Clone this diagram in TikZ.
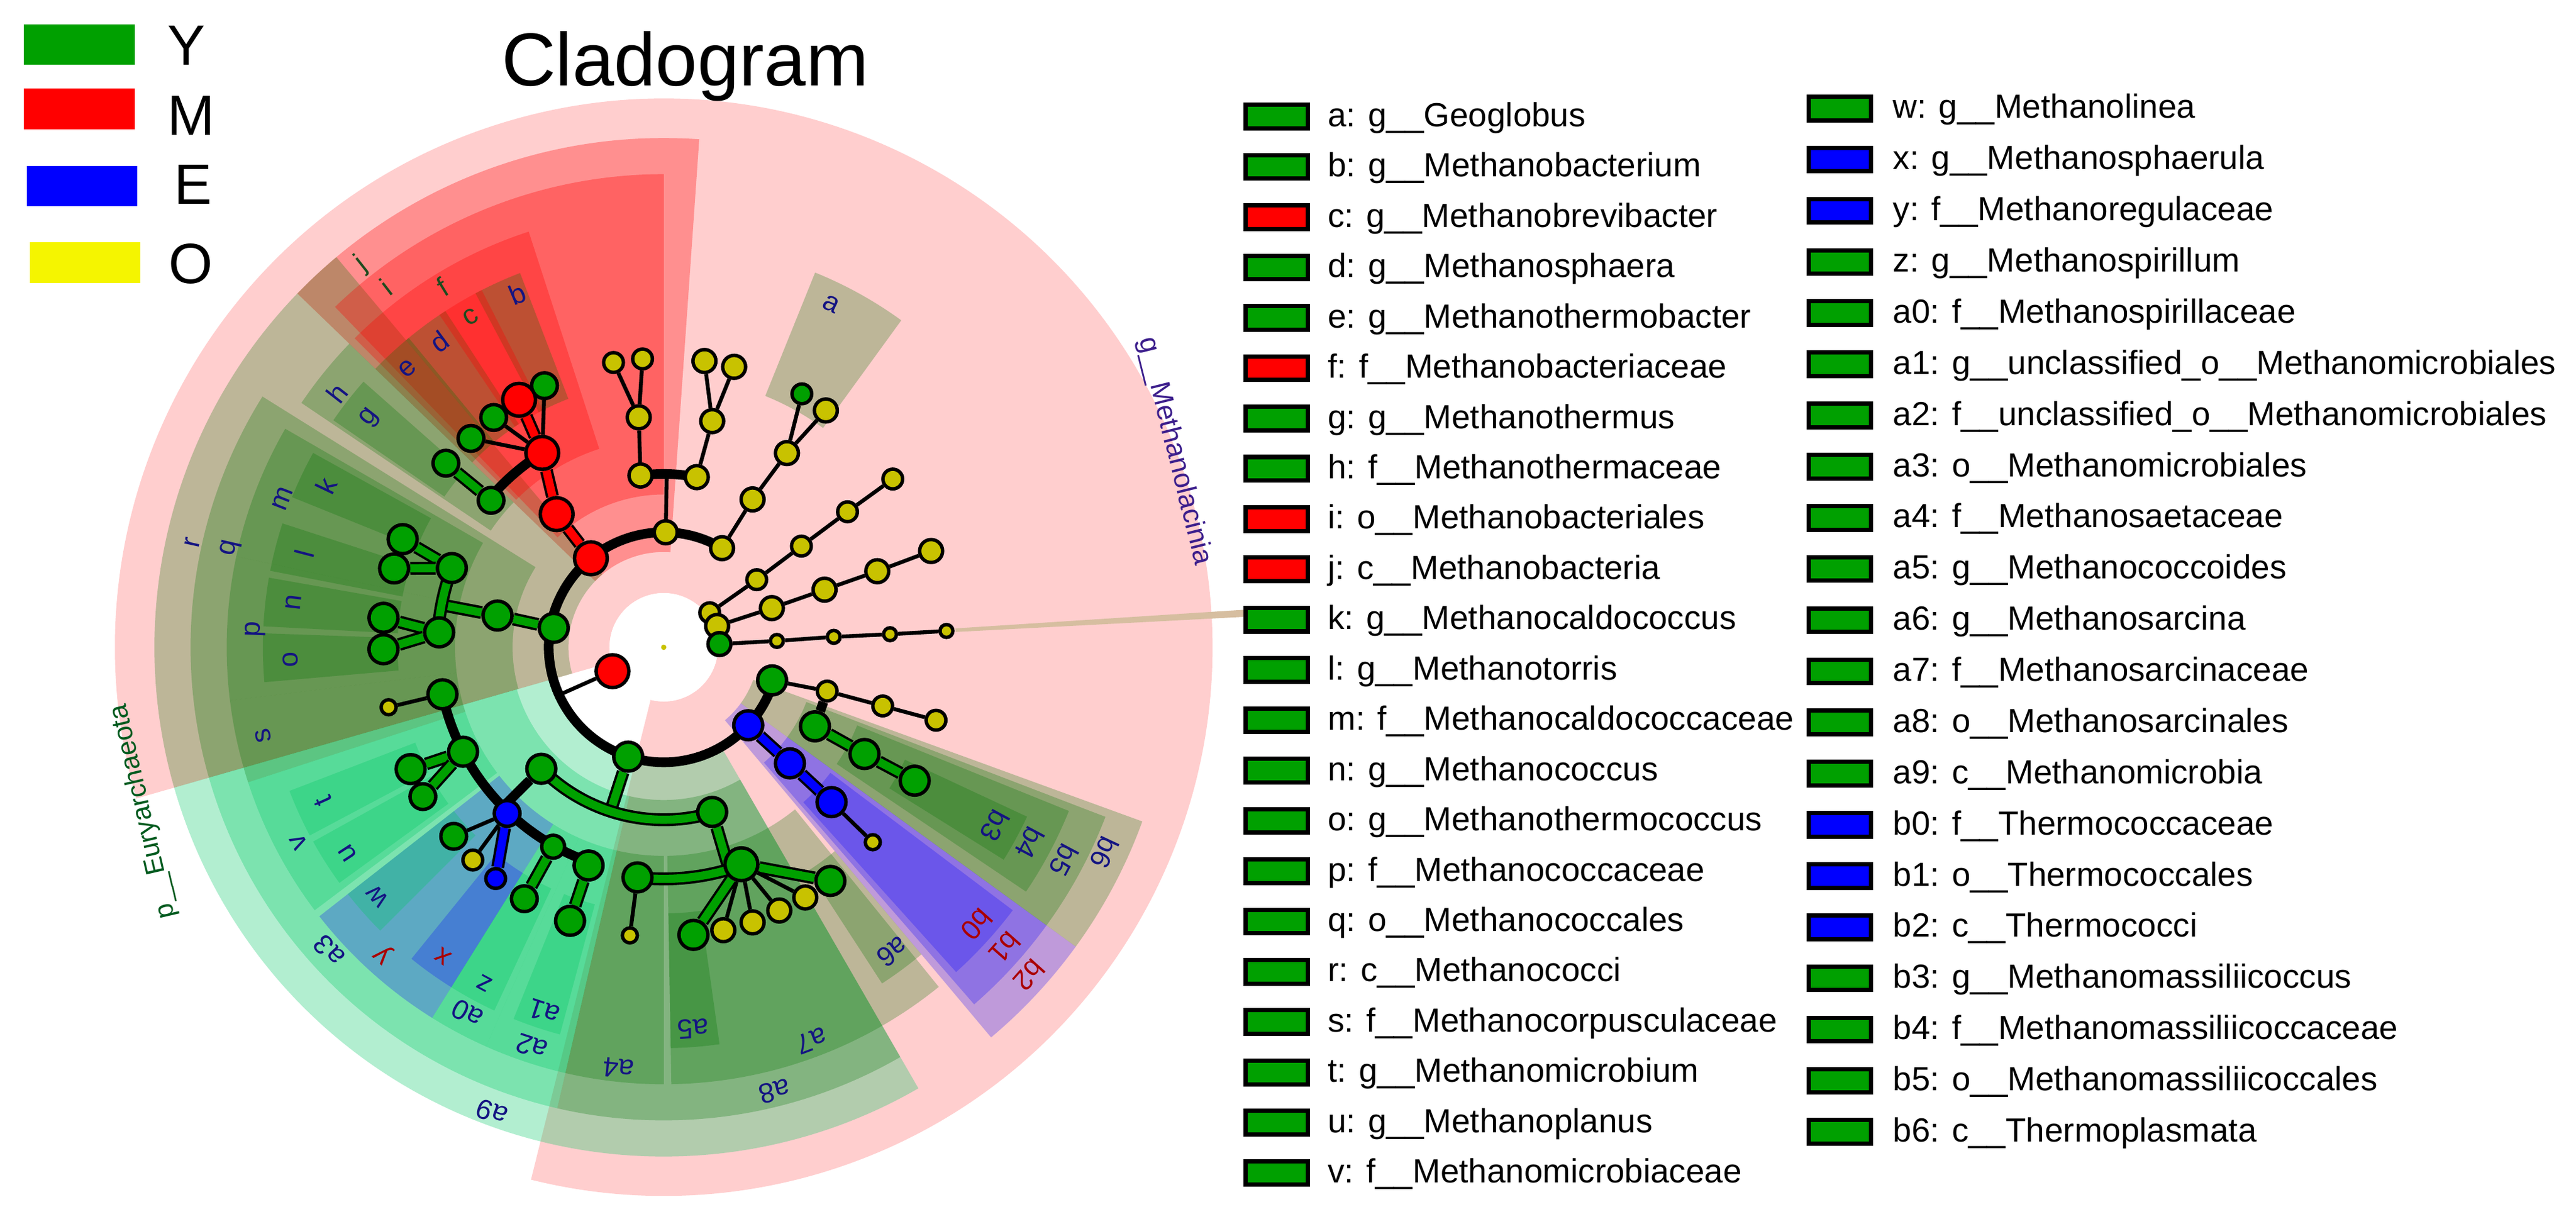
\documentclass[tikz,border=0pt]{standalone}
\usepackage{fontspec}
\setmainfont{Liberation Sans}
\usetikzlibrary{positioning}

\definecolor{clY}{RGB}{0,160,0}
\definecolor{clM}{RGB}{255,0,0}
\definecolor{clE}{RGB}{0,0,255}
\definecolor{clO}{RGB}{245,245,0}
\definecolor{ndO}{RGB}{200,194,0}
\definecolor{shY}{RGB}{0,115,0}
\definecolor{shB}{RGB}{0,200,100}
\definecolor{pinkbg}{RGB}{255,206,206}
\definecolor{labN}{RGB}{20,20,130}
\definecolor{labG}{RGB}{30,75,30}
\definecolor{labR}{RGB}{170,0,0}
\definecolor{tanline}{RGB}{214,190,160}

\pgfdeclarelayer{back}
\pgfdeclarelayer{edges}
\pgfsetlayers{back,edges,main}

\newcommand{\cladeshade}[5]{%
  \fill[#1] (#2:#4) arc[start angle=#2, end angle=#3, radius=#4] -- (#3:#5)
    arc[start angle=#3, end angle=#2, radius=#5] -- cycle;}

\tikzset{
  tn/.style={circle, draw=black, line width=1.6pt, inner sep=0pt, minimum size=#1},
  sA/.style={tn=15.3pt}, sB/.style={tn=13.5pt}, sC/.style={tn=12pt},
  sD/.style={tn=10.7pt}, sE/.style={tn=9.2pt}, sF/.style={tn=7pt}, sG/.style={tn=6pt},
  trunk/.style={line width=4.5pt, black},
  twig/.style={line width=1.8pt, black},
  gbar/.style={draw=black, line width=1.1pt, double=clY, double distance=3.8pt},
  rbar/.style={draw=black, line width=1.1pt, double=clM, double distance=3.8pt},
  bbar/.style={draw=black, line width=1.1pt, double=clE, double distance=3.8pt},
  hY/.style={fill=shY, fill opacity=0.26},
  hB/.style={fill=shB, fill opacity=0.3},
  hM/.style={fill=clM, fill opacity=0.3},
  hE/.style={fill=clE, fill opacity=0.25},
  lab/.style={font=\fontsize{13}{15}\selectfont, inner sep=0pt},
  lbox/.style={draw=black, line width=2pt, minimum width=29pt, minimum height=11pt, inner sep=0pt},
  ltext/.style={font=\fontsize{15.6}{18}\selectfont, anchor=base west, inner sep=0pt},
  key/.style={font=\fontsize{26.5}{30}\selectfont, anchor=base, inner sep=0pt}
}

\begin{document}
\begin{tikzpicture}[x=0.026926cm, y=-0.026926cm]
\useasboundingbox (0,0) rectangle (1568,742);

% class key
\node[fill=clY, minimum width=51.7pt, minimum height=19pt, inner sep=0pt] (barY) at (48.4,27.1) {};
\node[fill=clM, minimum width=51.7pt, minimum height=19pt, inner sep=0pt] (barM) at (48.4,66.2) {};
\node[fill=clE, minimum width=51.7pt, minimum height=19pt, inner sep=0pt] (barE) at (50,113.3) {};
\node[fill=clO, minimum width=51.7pt, minimum height=19pt, inner sep=0pt] (barO) at (51.8,159.9) {};
\node[key] (keyY) at (113.6,39.4) {Y};
\node[key] (keyM) at (116.4,82.3) {M};
\node[key] (keyE) at (117.6,124.4) {E};
\node[key] (keyO) at (116,172.5) {O};

\node[font=\fontsize{35}{40}\selectfont, anchor=base, inner sep=0pt] (title) at (417,52) {Cladogram};

\begin{scope}[shift={(404,394)}, yscale=-1]

\begin{pgfonlayer}{back}
\cladeshade{fill=pinkbg}{-104}{196}{33}{334}
\fill[tanline] (3.0:178) -- (3.0:368) -- (3.7:368) -- (3.7:178) -- cycle;
% classes
\cladeshade{hM}{86}{136}{58}{310}
\cladeshade{hY}{130}{196}{58}{310}
\cladeshade{hB}{196}{300}{72}{310}
\cladeshade{hE}{310}{324}{58}{310}
\cladeshade{hY}{324}{340}{58}{310}
% orders
\cladeshade{hM}{90}{134}{93}{288}
\cladeshade{hY}{148}{196}{92}{288}
\cladeshade{hB}{196}{257}{93}{288}
\cladeshade{hY}{257}{300}{93}{288}
\cladeshade{hE}{311}{324}{93}{288}
\cladeshade{hY}{324}{339}{93}{288}
% families
\cladeshade{hM}{108}{135}{127}{266}
\cladeshade{hY}{136}{146}{127}{266}
\cladeshade{hY}{150}{168}{127}{266}
\cladeshade{hY}{168}{187}{127}{266}
\cladeshade{hY}{187}{198}{127}{266}
\cladeshade{hB}{198}{217}{127}{266}
\cladeshade{hE}{218}{238}{127}{266}
\cladeshade{hB}{238}{246}{127}{266}
\cladeshade{hB}{246}{257}{127}{266}
\cladeshade{hY}{257}{270}{127}{266}
\cladeshade{hY}{271}{309}{127}{266}
\cladeshade{hE}{312}{323}{127}{266}
\cladeshade{hY}{326}{338}{127}{266}
% genera
\cladeshade{hY}{54}{68}{165}{246}
\foreach \a/\b in {111/118, 123/130, 129.5/136, 138.5/145.5, 151/158, 162/169, 170/177,
    178/185, 271/278, 303/310, 328/335}
  \cladeshade{hY}{\a}{\b}{162}{244};
\foreach \a/\b in {201/208, 209/216, 218/225, 238/245, 248/255}
  \cladeshade{hB}{\a}{\b}{162}{244};
\cladeshade{hM}{117}{124}{162}{244}
\cladeshade{hE}{231}{238}{162}{244}
\fill[white] (0,0) circle[radius=33];
\end{pgfonlayer}

\node[circle, fill=ndO, inner sep=0pt, minimum size=2.5pt] (ctr) at (0,0) {};
\node[sA, fill=clM] (rt) at (205:34.4) {};

% top (O)
\node[sD, fill=ndO] (o1) at (89:70) {};
\node[sD, fill=ndO] (o2) at (97.7:105.5) {};
\node[sD, fill=ndO] (o3) at (79:105.5) {};
\node[sD, fill=ndO] (o4) at (96.2:140.8) {};
\node[sE, fill=ndO] (o5) at (100:176) {};
\node[sE, fill=ndO] (o6) at (94.2:176) {};
\node[sD, fill=ndO] (o7) at (77.9:140.8) {};
\node[sD, fill=ndO] (o8) at (81.9:176) {};
\node[sD, fill=ndO] (o9) at (75.9:176) {};
\node[sD, fill=ndO] (o10) at (59.5:70) {};
\node[sD, fill=ndO] (o11) at (59:105) {};
\node[sD, fill=ndO] (o12) at (57.6:140) {};
\node[sE, fill=clY] (ga) at (61.4:175.7) {};
\node[sD, fill=ndO] (o13) at (55.6:174.7) {};

% rays
\node[sE, fill=ndO] (ra1) at (36.9:35) {};
\node[sE, fill=ndO] (ra2) at (36:70) {};
\node[sE, fill=ndO] (ra3) at (36.3:104) {};
\node[sE, fill=ndO] (ra4) at (36.4:139) {};
\node[sE, fill=ndO] (ra5) at (36.3:173) {};
\node[sD, fill=ndO] (rb1) at (21.7:35) {};
\node[sD, fill=ndO] (rb2) at (19.9:70) {};
\node[sD, fill=ndO] (rb3) at (19.7:104) {};
\node[sD, fill=ndO] (rb4) at (19.6:138) {};
\node[sD, fill=ndO] (rb5) at (19.8:173) {};
\node[sD, fill=clY] (rc1) at (3.3:34) {};
\node[sG, fill=ndO] (rc2) at (3.2:69) {};
\node[sG, fill=ndO] (rc3) at (3.5:103.7) {};
\node[sG, fill=ndO] (rc4) at (3.3:138) {};
\node[sG, fill=ndO] (rc5) at (3.3:172.4) {};

% Thermoplasmata
\node[sB, fill=clY] (tp) at (343:69) {};
\node[sE, fill=ndO] (ty1) at (345:103) {};
\node[sE, fill=ndO] (ty2) at (345:138) {};
\node[sE, fill=ndO] (ty3) at (345:171.6) {};
\node[sB, fill=clY] (tpa) at (332.4:103.9) {};
\node[sB, fill=clY] (tpb) at (332:138.4) {};
\node[sB, fill=clY] (tpc) at (332:173) {};

% Thermococci
\node[sB, fill=clE] (tc1) at (317.3:70) {};
\node[sB, fill=clE] (tc2) at (317.4:104.4) {};
\node[sB, fill=clE] (tc3) at (317.3:139) {};
\node[sF, fill=ndO] (tcy) at (317:174) {};

% Methanomicrobia
\node[sB, fill=clY] (m9) at (252:70) {};
\node[sB, fill=clY] (m3) at (224.8:105) {};
\node[sB, fill=clY] (m8) at (286.4:104.5) {};
\node[sB, fill=clY] (ms) at (192:137.7) {};
\node[sB, fill=clY] (mv) at (207.5:137.7) {};
\node[sC, fill=clE] (my) at (226.7:139) {};
\node[sD, fill=clY] (ma0) at (241:138.8) {};
\node[sB, fill=clY] (ma2) at (251:140.5) {};
\node[sF, fill=ndO] (msl) at (192.3:171.4) {};
\node[sB, fill=clY] (mt) at (205.7:171) {};
\node[sC, fill=clY] (mu) at (211.8:172.5) {};
\node[sC, fill=clY] (mw) at (222:172) {};
\node[sE, fill=ndO] (myy) at (228.1:174) {};
\node[sE, fill=clE] (mx) at (234:174) {};
\node[sC, fill=clY] (mz) at (241:175) {};
\node[sB, fill=clY] (ma1) at (251.1:176) {};
\node[sB, fill=clY] (ma4) at (263.5:141) {};
\node[sA, fill=clY] (ma7) at (289.7:140.3) {};
\node[sF, fill=ndO] (ma4y) at (263.3:176.6) {};
\node[sB, fill=clY] (ma5) at (275.9:176) {};
\node[sD, fill=ndO] (ms1) at (281.9:176) {};
\node[sD, fill=ndO] (ms2) at (287.9:176) {};
\node[sD, fill=ndO] (ms3) at (293.7:175) {};
\node[sD, fill=ndO] (ms4) at (299.5:175) {};
\node[sB, fill=clY] (ma6) at (305.5:174.7) {};

% Methanococci
\node[sB, fill=clY] (cr) at (170:68) {};
\node[sB, fill=clY] (cq) at (169.2:103) {};
\node[sB, fill=clY] (cm) at (159.5:137.7) {};
\node[sB, fill=clY] (cp) at (176.2:137) {};
\node[sB, fill=clY] (ck) at (157.5:172) {};
\node[sB, fill=clY] (cl) at (163.7:171) {};
\node[sB, fill=clY] (cn) at (174:171.5) {};
\node[sB, fill=clY] (co) at (180.4:170.6) {};

% Methanobacteria
\node[sA, fill=clM] (bj) at (129.3:70) {};
\node[sA, fill=clM] (bi) at (128.8:104) {};
\node[sA, fill=clM] (bf) at (122:139.5) {};
\node[sC, fill=clY] (bh) at (139.6:138) {};
\node[sC, fill=clY] (bb) at (114.5:175) {};
\node[sA, fill=clM] (bc) at (120.3:174.5) {};
\node[sC, fill=clY] (bd) at (126.5:174) {};
\node[sC, fill=clY] (be) at (132.7:173) {};
\node[sC, fill=clY] (bg) at (139.8:173.6) {};

\begin{pgfonlayer}{edges}
\draw[trunk] (o10.center) arc[start angle=59.5, end angle=343, radius=70];
\draw[twig] (rt) -- (204.5:70);
\draw[twig] (o1) -- (89:105.5);
\draw[trunk] (o2.center) arc[start angle=97.7, end angle=79, radius=105.5];
\draw[twig] (o2) -- (o4);
\draw[twig] (o4) -- (o5);
\draw[twig] (o4) -- (o6);
\draw[twig] (o3) -- (o7);
\draw[twig] (o7) -- (o8);
\draw[twig] (o7) -- (o9);
\draw[twig] (o10) -- (o11);
\draw[twig] (o11) -- (o12);
\draw[twig] (o12) -- (ga);
\draw[twig] (o12) -- (o13);
\draw[twig] (ra1) -- (ra2) -- (ra3) -- (ra4) -- (ra5);
\draw[twig] (rb1) -- (rb2) -- (rb3) -- (rb4) -- (rb5);
\draw[twig] (rc1) -- (rc2) -- (rc3) -- (rc4) -- (rc5);
\draw[twig] (tp) -- (ty1);
\draw[twig] (ty1) -- (ty2) -- (ty3);
\draw[trunk] (ty1) -- (tpa);
\draw[gbar] (tpa) -- (tpb);
\draw[gbar] (tpb) -- (tpc);
\draw[bbar] (tc1) -- (tc2);
\draw[bbar] (tc2) -- (tc3);
\draw[twig] (tc3) -- (tcy);
\draw[gbar] (m9) -- (252:105);
\draw[gbar] (m3.center) arc[start angle=224.8, end angle=286.4, radius=105];
\draw[trunk] (m3) -- (224.8:139);
\draw[trunk] (ms.center) arc[start angle=192, end angle=251, radius=139];
\draw[twig] (ms) -- (msl);
\draw[gbar] (mv) -- (mt);
\draw[gbar] (mv) -- (mu);
\draw[twig] (my) -- (mw);
\draw[twig] (my) -- (myy);
\draw[bbar] (my) -- (mx);
\draw[gbar] (ma0) -- (mz);
\draw[gbar] (ma2) -- (ma1);
\draw[gbar] (m8) -- (286.4:140.3);
\draw[gbar] (ma4.center) arc[start angle=263.5, end angle=289.7, radius=140.5];
\draw[twig] (ma4) -- (ma4y);
\draw[gbar] (ma7) -- (ma5);
\draw[gbar] (ma7) -- (ma6);
\foreach \s in {ms1,ms2,ms3,ms4} \draw[twig] (ma7) -- (\s);
\draw[gbar] (cr) -- (cq);
\draw[gbar] (cq) -- (169.2:137.3);
\draw[gbar] (cm.center) arc[start angle=159.5, end angle=176.2, radius=137.3];
\draw[gbar] (cm) -- (ck);
\draw[gbar] (cm) -- (cl);
\draw[gbar] (cp) -- (cn);
\draw[gbar] (cp) -- (co);
\draw[rbar] (bj) -- (bi);
\draw[rbar] (bi) -- (bf);
\draw[trunk] (bf.center) arc[start angle=122, end angle=139.6, radius=139];
\draw[rbar] (bf) -- (bc);
\draw[twig] (bf) -- (bb);
\draw[twig] (bf) -- (bd);
\draw[twig] (bf) -- (be);
\draw[gbar] (bh) -- (bg);
\end{pgfonlayer}

% clade labels
\foreach \n/\a/\r in {a/64/232.6, b/112.5/232.8, d/126.3/231, e/132.6/230.7, h/142.1/252, g/142/227,
    k/154.4/228, m/158.7/249, r/167.5/294, q/167.1/270.5, l/165.4/226, n/173.1/227, p/177.5/249,
    o/181.9/227.4, s/192.5/249.7, t/204.3/227.6, v/208.1/252, u/213.1/229.7, w/221/231,
    a3/222.2/275, z/241.9/232, a0/241.8/253, a1/251.8/233.6, a2/251.7/256, a4/263.9/257.8,
    a5/274.4/233, a7/290.6/256, a8/284/278.7, a9/249.7/302, a6/306.9/231.8,
    b3/331.7/229, b4/331.9/252.5, b5/332/276, b6/335/296}
  \node[lab, text=labN, rotate=\a-90] (l\n) at (\a:\r) {\n};
\foreach \n/\a/\r in {j/128.3/297, i/127.6/277, f/121.5/257.5, c/120.3/233}
  \node[lab, text=labG, rotate=\a-90] (l\n) at (\a:\r) {\n};
\foreach \n/\a/\r in {y/227.6/252.5, x/234.5/231, b0/318.5/254.5, b1/318.6/276.7, b2/318.1/299}
  \node[lab, text=labR, rotate=\a-90] (l\n) at (\a:\r) {\n};
\node[font=\fontsize{12.5}{15}\selectfont, text={rgb,255:red,0;green,90;blue,30}, rotate=103, inner sep=0pt] (phy) at (197.5:332) {p\_\_Euryarchaeota};
\node[lab, text={rgb,255:red,60;green,30;blue,140}, rotate=-76] (gml) at (21:333) {g\_\_Methanolacinia};
\end{scope}

% legend
\foreach \k/\t/\c [count=\i] in {a/g\_\_Geoglobus/clY, b/g\_\_Methanobacterium/clY,
    c/g\_\_Methanobrevibacter/clM, d/g\_\_Methanosphaera/clY, e/g\_\_Methanothermobacter/clY,
    f/f\_\_Methanobacteriaceae/clM, g/g\_\_Methanothermus/clY, h/f\_\_Methanothermaceae/clY,
    i/o\_\_Methanobacteriales/clM, j/c\_\_Methanobacteria/clM, k/g\_\_Methanocaldococcus/clY,
    l/g\_\_Methanotorris/clY, m/f\_\_Methanocaldococcaceae/clY, n/g\_\_Methanococcus/clY,
    o/g\_\_Methanothermococcus/clY, p/f\_\_Methanococcaceae/clY, q/o\_\_Methanococcales/clY,
    r/c\_\_Methanococci/clY, s/f\_\_Methanocorpusculaceae/clY, t/g\_\_Methanomicrobium/clY,
    u/g\_\_Methanoplanus/clY, v/f\_\_Methanomicrobiaceae/clY} {
  \pgfmathsetmacro{\yy}{71+(\i-1)*30.62}
  \node[lbox, fill=\c] (k\k) at (777,\yy) {};
  \node[ltext] (t\k) at (808,\yy+6) {\k: \t};
}
\foreach \k/\t/\c [count=\i] in {w/g\_\_Methanolinea/clY, x/g\_\_Methanosphaerula/clE,
    y/f\_\_Methanoregulaceae/clE, z/g\_\_Methanospirillum/clY, a0/f\_\_Methanospirillaceae/clY,
    a1/g\_\_unclassified\_o\_\_Methanomicrobiales/clY, a2/f\_\_unclassified\_o\_\_Methanomicrobiales/clY,
    a3/o\_\_Methanomicrobiales/clY, a4/f\_\_Methanosaetaceae/clY, a5/g\_\_Methanococcoides/clY,
    a6/g\_\_Methanosarcina/clY, a7/f\_\_Methanosarcinaceae/clY, a8/o\_\_Methanosarcinales/clY,
    a9/c\_\_Methanomicrobia/clY, b0/f\_\_Thermococcaceae/clE, b1/o\_\_Thermococcales/clE,
    b2/c\_\_Thermococci/clE, b3/g\_\_Methanomassiliicoccus/clY, b4/f\_\_Methanomassiliicoccaceae/clY,
    b5/o\_\_Methanomassiliicoccales/clY, b6/c\_\_Thermoplasmata/clY} {
  \pgfmathsetmacro{\yy}{66+(\i-1)*31.15}
  \node[lbox, fill=\c] (k\k) at (1120,\yy) {};
  \node[ltext] (t\k) at (1152,\yy+6) {\k: \t};
}
\end{tikzpicture}
\end{document}
